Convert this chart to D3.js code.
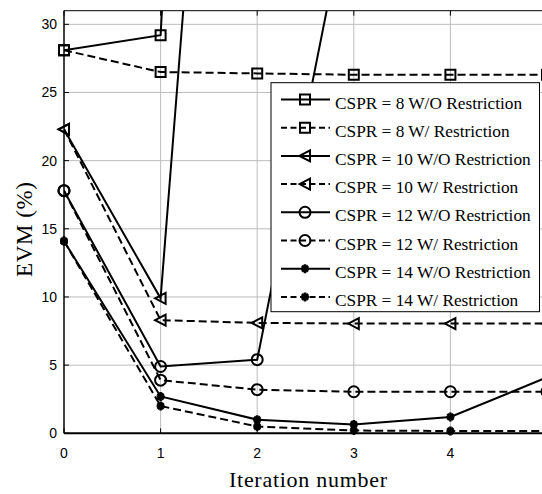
<!DOCTYPE html>
<html lang="en">
<head>
  <meta charset="UTF-8">
  <title>EVM vs iteration number</title>
  <script src="https://d3js.org/d3.v7.min.js"></script>
  <style>
    body
    {
      margin: 0;
      background-color: #ffffff;
    }

    svg
    {
      display: block;
    }

    .tick-label
    {
      font-family: "Liberation Sans", Arial, sans-serif;
      font-size: 14px;
    }

    .serif
    {
      font-family: "Liberation Serif", "Times New Roman", serif;
    }
  </style>
</head>
<body>
  <svg width="542" height="494"></svg>
  <script>
    // values (EVM in %)
    const iterations = [0, 1, 2, 3, 4, 5];
    const cspr8NoRestr = [28.1, 29.2, 160];
    const cspr8Restr = [28.1, 26.5, 26.4, 26.3, 26.3, 26.3];
    const cspr10NoRestr = [22.3, 9.9, 100];
    const cspr10Restr = [22.3, 8.3, 8.1, 8.05, 8.05, 8.05];
    const cspr12NoRestr = [17.8, 4.9, 5.4, 41];
    const cspr12Restr = [17.8, 3.9, 3.2, 3.05, 3.05, 3.05];
    const cspr14NoRestr = [14.1, 2.7, 1.0, 0.65, 1.2, 4.1];
    const cspr14Restr = [14.1, 2.0, 0.5, 0.2, 0.17, 0.17];

    const xTicks = [0, 1, 2, 3, 4, 5];
    const xTickLabels = [0, 1, 2, 3, 4];
    const yTicks = [0, 5, 10, 15, 20, 25, 30];

    const seriesNames = [
      "CSPR = 8 W/O Restriction",
      "CSPR = 8 W/ Restriction",
      "CSPR = 10 W/O Restriction",
      "CSPR = 10 W/ Restriction",
      "CSPR = 12 W/O Restriction",
      "CSPR = 12 W/ Restriction",
      "CSPR = 14 W/O Restriction",
      "CSPR = 14 W/ Restriction"
    ];
    const seriesValues = [cspr8NoRestr, cspr8Restr, cspr10NoRestr, cspr10Restr,
                          cspr12NoRestr, cspr12Restr, cspr14NoRestr, cspr14Restr];
    const seriesMarkers = ["square", "square", "triangle", "triangle", "circle", "circle", "star", "star"];
    const seriesDashed = [false, true, false, true, false, true, false, true];

    const series = seriesNames.map((name, i) => ({
      name: name,
      marker: seriesMarkers[i],
      dashed: seriesDashed[i],
      points: seriesValues[i].map((v, j) => ({ x: iterations[j], y: v }))
    }));

    const svg = d3.select("svg");

    const plotLeft = 64, plotRight = 547, plotTop = 10.7, plotBottom = 433.3;

    const x = d3.scaleLinear().domain([0, 5]).range([plotLeft, plotRight]);
    const y = d3.scaleLinear().domain([0, 31]).range([plotBottom, plotTop]);

    // grid
    svg.append("g")
      .selectAll("line")
      .data(xTicks.filter(d => d > 0 && d < 5))
      .join("line")
      .attr("x1", d => x(d)).attr("x2", d => x(d))
      .attr("y1", plotTop).attr("y2", plotBottom)
      .attr("stroke", "#bdbdbd")
      .attr("stroke-width", 1);

    svg.append("g")
      .selectAll("line")
      .data(yTicks.filter(d => d > 0))
      .join("line")
      .attr("x1", plotLeft).attr("x2", plotRight)
      .attr("y1", d => y(d)).attr("y2", d => y(d))
      .attr("stroke", "#bdbdbd")
      .attr("stroke-width", 1);

    // inward ticks on all sides
    const ticks = svg.append("g").attr("stroke", "#000").attr("stroke-width", 1);
    xTicks.forEach(d => {
      ticks.append("line").attr("x1", x(d)).attr("x2", x(d)).attr("y1", plotBottom).attr("y2", plotBottom - 5);
      ticks.append("line").attr("x1", x(d)).attr("x2", x(d)).attr("y1", plotTop).attr("y2", plotTop + 5);
    });
    yTicks.forEach(d => {
      ticks.append("line").attr("x1", plotLeft).attr("x2", plotLeft + 5).attr("y1", y(d)).attr("y2", y(d));
    });

    // tick labels
    svg.append("g")
      .selectAll("text")
      .data(xTickLabels)
      .join("text")
      .attr("class", "tick-label")
      .attr("x", d => x(d))
      .attr("y", 458)
      .attr("text-anchor", "middle")
      .text(d => d);

    svg.append("g")
      .selectAll("text")
      .data(yTicks)
      .join("text")
      .attr("class", "tick-label")
      .attr("x", 57)
      .attr("y", d => y(d) + 5)
      .attr("text-anchor", "end")
      .text(d => d);

    // clip for lines
    svg.append("defs").append("clipPath")
      .attr("id", "plot-clip")
      .append("rect")
      .attr("x", plotLeft).attr("y", plotTop)
      .attr("width", plotRight - plotLeft).attr("height", plotBottom - plotTop);

    const line = d3.line()
      .x(d => x(d.x))
      .y(d => y(d.y));

    const symbolPath = {
      square: "M-5,-5H5V5H-5Z",
      triangle: "M-5.5,0L5,-5.5V5.5Z",
      circle: "M5.5,0A5.5,5.5 0 1,1 -5.5,0A5.5,5.5 0 1,1 5.5,0Z",
      star: "M-4,0H4M0,-4.5V4.5M-3,-3L3,3M-3,3L3,-3"
    };

    const plot = svg.append("g");

    series.forEach(s => {
      plot.append("path")
        .datum(s.points)
        .attr("clip-path", "url(#plot-clip)")
        .attr("fill", "none")
        .attr("stroke", "#000")
        .attr("stroke-width", 2)
        .attr("stroke-dasharray", s.dashed ? "8,4" : null)
        .attr("d", line);

      plot.append("g")
        .selectAll("path")
        .data(s.points.filter(p => p.y <= 31))
        .join("path")
        .attr("transform", p => `translate(${x(p.x)},${y(p.y)})`)
        .attr("d", symbolPath[s.marker])
        .attr("fill", "none")
        .attr("stroke", "#000")
        .attr("stroke-width", s.marker === "star" ? 2.6 : 2);
    });

    // axes box lines
    svg.append("line").attr("x1", plotLeft).attr("x2", plotRight).attr("y1", plotBottom).attr("y2", plotBottom)
      .attr("stroke", "#000").attr("stroke-width", 2);
    svg.append("line").attr("x1", plotLeft).attr("x2", plotLeft).attr("y1", plotTop).attr("y2", plotBottom)
      .attr("stroke", "#000").attr("stroke-width", 1.5);
    svg.append("line").attr("x1", plotLeft).attr("x2", plotRight).attr("y1", plotTop).attr("y2", plotTop)
      .attr("stroke", "#000").attr("stroke-width", 1);

    // axis labels
    svg.append("text")
      .attr("class", "serif")
      .attr("x", 308)
      .attr("y", 486.5)
      .attr("text-anchor", "middle")
      .attr("font-size", 22)
      .attr("textLength", 158)
      .attr("lengthAdjust", "spacing")
      .text("Iteration number");

    svg.append("text")
      .attr("class", "serif")
      .attr("transform", "translate(32,229.5) rotate(-90)")
      .attr("text-anchor", "middle")
      .attr("font-size", 23)
      .attr("textLength", 95)
      .attr("lengthAdjust", "spacing")
      .text("EVM (%)");

    // legend
    const legend = svg.append("g");
    legend.append("rect")
      .attr("x", 271).attr("y", 82.7)
      .attr("width", 268.5).attr("height", 229)
      .attr("fill", "#fff")
      .attr("stroke", "#000")
      .attr("stroke-width", 1);

    series.forEach((s, i) => {
      const ly = 99.5 + i * 28.2;
      const row = legend.append("g");
      row.append("line")
        .attr("x1", 281).attr("x2", 330)
        .attr("y1", ly).attr("y2", ly)
        .attr("stroke", "#000")
        .attr("stroke-width", 2)
        .attr("stroke-dasharray", s.dashed ? "6,3.5" : null);
      row.append("path")
        .attr("transform", `translate(305,${ly})`)
        .attr("d", symbolPath[s.marker])
        .attr("fill", "none")
        .attr("stroke", "#000")
        .attr("stroke-width", s.marker === "star" ? 2.6 : 2);
      row.append("text")
        .attr("class", "serif")
        .attr("x", 335)
        .attr("y", ly + 9)
        .attr("font-size", 17.3)
        .text(s.name);
    });
  </script>
</body>
</html>
